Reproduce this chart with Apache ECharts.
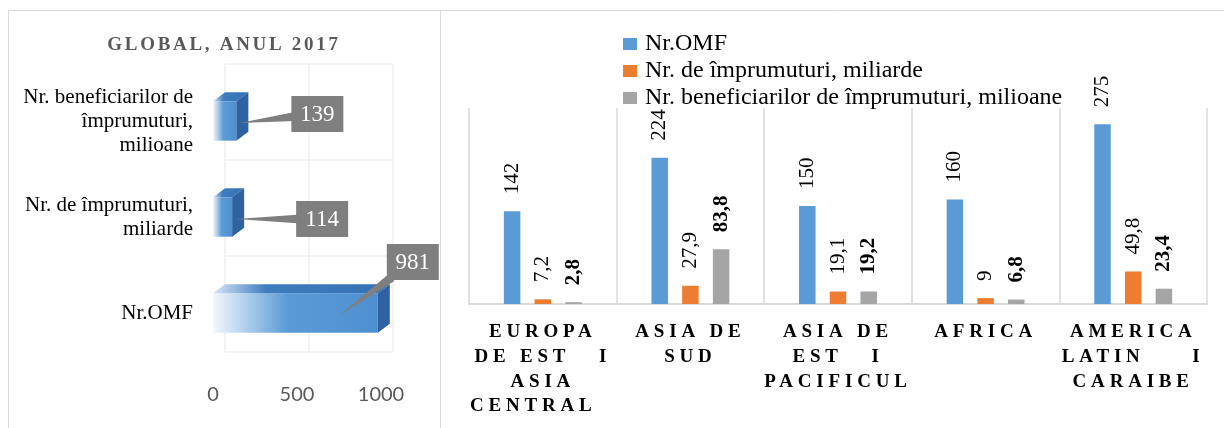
<!DOCTYPE html>
<html>
<head>
<meta charset="utf-8">
<script src="https://cdn.jsdelivr.net/npm/echarts@6/dist/echarts.min.js"></script>
<style>
  html, body { margin: 0; padding: 0; background: #ffffff; }
  #chart { width: 1224px; height: 428px; }
</style>
</head>
<body>
<div id="chart"></div>
<script>
// ---- data: global totals, 2017 ----
const globalCategories = ['Nr.OMF', 'Nr. de împrumuturi,\nmiliarde', 'Nr. beneficiarilor de\nîmprumuturi,\nmilioane'];
const globalValues = [981, 114, 139];
const globalTicks = [0, 500, 1000];

// ---- data: by region ----
const regions = ['EUROPA\nDE EST   I\nASIA\nCENTRAL  ', 'ASIA DE\nSUD', 'ASIA DE\nEST   I\nPACIFICUL', 'AFRICA', 'AMERICA\nLATIN     I\nCARAIBE'];
const seriesNames = ['Nr.OMF', 'Nr. de împrumuturi, miliarde', 'Nr. beneficiarilor de împrumuturi, milioane'];
const omfCount = [142, 224, 150, 160, 275];
const loansBn = [7.2, 27.9, 19.1, 9, 49.8];
const borrowersMn = [2.8, 83.8, 19.2, 6.8, 23.4];

// ---- styling ----
const SERIF = "'Liberation Serif', 'Times New Roman', serif";
const SANS = "Lato, 'Liberation Sans', sans-serif";
const PALETTE = ['#5b9bd5', '#ed7d31', '#a5a5a5'];
const DEPTH = [12, -9];               // 3D bar depth offset (px)
const BOX = [52, 36];                 // callout box size (px)
// callout placement per bar: pointer tip shift from bar end, box offset from bar end
const CALLOUTS = [
  { tip: -38, dx: 9, dy: -51 },
  { tip: 4, dx: 64, dy: 2 },
  { tip: 3, dx: 55, dy: -7 }
];

// Spaced capitals: canvas letterSpacing for the captions set in weights 800 / 900.
const LETTER_SPACING = { '800': '4.8px', '900': '2.7px' };
(function () {
  const proto = CanvasRenderingContext2D.prototype;
  const baseFill = proto.fillText;
  proto.fillText = function (text, x, y, maxWidth) {
    const args = maxWidth === undefined ? [text, x, y] : [text, x, y, maxWidth];
    const m = /(^|\s)(800|900)\s/.exec(this.font);
    if (!m || !('letterSpacing' in this)) {
      return baseFill.apply(this, args);
    }
    const font = this.font;
    this.save();
    this.letterSpacing = LETTER_SPACING[m[2]];
    this.font = font;
    baseFill.apply(this, args);
    this.restore();
    this.letterSpacing = '0px';
    this.font = font;
  };
})();

const fmtComma = (v) => String(v).replace('.', ',');

// 3D horizontal bar with a callout box
function renderBar3D(params, api) {
  const i = params.dataIndex;
  const v = api.value(0);
  const cat = api.value(1);
  const end = api.coord([v, cat]);
  const start = api.coord([0, cat]);
  const band = api.size([0, 1])[1];
  const h = band * 0.41;
  const x0 = start[0], x1 = end[0], yc = end[1];
  const yt = yc - h / 2, yb = yc + h / 2;
  const dx = DEPTH[0], dy = DEPTH[1];

  const front = {
    type: 'rect',
    shape: { x: x0, y: yt, width: x1 - x0, height: h },
    style: {
      fill: new echarts.graphic.LinearGradient(0, 0, 1, 0, [
        { offset: 0, color: '#f3f8fd' },
        { offset: 0.45, color: '#5b9bd5' },
        { offset: 1, color: '#4e8fd2' }
      ])
    }
  };
  const top = {
    type: 'polygon',
    shape: { points: [[x0, yt], [x1, yt], [x1 + dx, yt + dy], [x0 + dx, yt + dy]] },
    style: {
      fill: new echarts.graphic.LinearGradient(0, 0, 1, 0, [
        { offset: 0, color: '#d7e7f6' },
        { offset: 0.3, color: '#3f7cc0' },
        { offset: 1, color: '#3470b4' }
      ])
    }
  };
  const side = {
    type: 'polygon',
    shape: { points: [[x1, yt], [x1 + dx, yt + dy], [x1 + dx, yb + dy], [x1, yb]] },
    style: { fill: '#2e62a2' }
  };

  // callout box and pointer
  const cfg = CALLOUTS[i];
  const bx0 = x1 + cfg.dx, by0 = yc + cfg.dy - BOX[1] / 2;
  const bx1 = bx0 + BOX[0], by1 = by0 + BOX[1];
  const cx = (bx0 + bx1) / 2, cy = (by0 + by1) / 2;
  const tip = [x1 + cfg.tip, yc + 2];
  const ddx = cx - tip[0], ddy = cy - tip[1];
  const tx = ddx > 0 ? (bx0 - tip[0]) / ddx : ddx < 0 ? (bx1 - tip[0]) / ddx : -Infinity;
  const ty = ddy > 0 ? (by0 - tip[1]) / ddy : ddy < 0 ? (by1 - tip[1]) / ddy : -Infinity;
  const t = Math.max(tx, ty) + 0.05;
  const px = tip[0] + t * ddx, py = tip[1] + t * ddy;
  const len = Math.sqrt(ddx * ddx + ddy * ddy) || 1;
  const nx = -ddy / len * 4.5, ny = ddx / len * 4.5;
  const pointer = {
    type: 'polygon',
    shape: { points: [tip, [px + nx, py + ny], [px - nx, py - ny]] },
    style: { fill: '#7f7f7f' }
  };
  const box = {
    type: 'rect',
    shape: { x: bx0, y: by0, width: BOX[0], height: BOX[1] },
    style: { fill: '#7f7f7f' }
  };
  const label = {
    type: 'text',
    style: {
      text: String(v), x: cx, y: cy + 1,
      align: 'center', verticalAlign: 'middle',
      fill: '#ffffff', fontSize: 23, fontFamily: SERIF
    }
  };

  return { type: 'group', children: [front, top, side, pointer, box, label] };
}

const barLabel = (weight) => ({
  show: true,
  position: 'top',
  rotate: 90,
  align: 'left',
  verticalAlign: 'middle',
  distance: 17,
  fontSize: 21,
  fontFamily: SERIF,
  fontWeight: weight,
  color: '#000000',
  formatter: (p) => fmtComma(p.value)
});

const chart = echarts.init(document.getElementById('chart'), null, { renderer: 'canvas' });

chart.setOption({
  animation: false,
  backgroundColor: '#ffffff',
  title: {
    text: 'GLOBAL, ANUL 2017',
    left: 219,
    top: 31,
    textAlign: 'center',
    textStyle: { fontFamily: SERIF, fontSize: 19, fontWeight: 900, color: '#595959' }
  },
  legend: {
    orient: 'vertical',
    left: 618,
    top: 27,
    itemWidth: 14,
    itemHeight: 12,
    itemGap: 3,
    icon: 'rect',
    data: seriesNames,
    textStyle: { fontFamily: SERIF, fontSize: 24, lineHeight: 24, color: '#000000', padding: [0, 0, 0, 3] }
  },
  graphic: [
    {
      type: 'polyline',
      shape: { points: [[8.5, 428], [8.5, 10.5], [440.5, 10.5], [440.5, 428]] },
      style: { stroke: '#d9d9d9', lineWidth: 1, fill: null }
    },
    {
      type: 'line',
      shape: { x1: 440.5, y1: 10.5, x2: 1224, y2: 10.5 },
      style: { stroke: '#d9d9d9', lineWidth: 1 }
    }
  ],
  grid: [
    { left: 213, top: 73, width: 168, height: 288 },
    { left: 469, right: 17, top: 108, bottom: 124 },
    { left: 213 + DEPTH[0], top: 73 + DEPTH[1], width: 168, height: 288 }
  ],
  xAxis: [
    {
      gridIndex: 0, type: 'value', min: globalTicks[0], max: globalTicks[globalTicks.length - 1],
      interval: globalTicks[1] - globalTicks[0],
      axisLine: { show: false }, axisTick: { show: false }, splitLine: { show: false },
      axisLabel: { fontFamily: SANS, fontSize: 20, color: '#595959', margin: 24, formatter: (v) => String(v) }
    },
    {
      gridIndex: 1, type: 'category', data: regions,
      axisLine: { lineStyle: { color: '#d9d9d9', width: 2 } },
      axisTick: { show: false },
      splitLine: { show: true, lineStyle: { color: '#d9d9d9', width: 1.5 } },
      axisLabel: {
        interval: 0, margin: 16, fontFamily: SERIF, fontSize: 19, fontWeight: 800,
        lineHeight: 24.7, color: '#000000', align: 'center'
      }
    },
    {
      gridIndex: 2, type: 'value', min: globalTicks[0], max: globalTicks[globalTicks.length - 1],
      interval: globalTicks[1] - globalTicks[0],
      axisLine: { show: false }, axisTick: { show: false }, axisLabel: { show: false },
      splitLine: { show: true, lineStyle: { color: '#efefef', width: 1.5 } }
    }
  ],
  yAxis: [
    {
      gridIndex: 0, type: 'category', data: globalCategories,
      axisLine: { show: false }, axisTick: { show: false },
      axisLabel: { fontFamily: SERIF, fontSize: 21, lineHeight: 24, color: '#000000', margin: 20 }
    },
    {
      gridIndex: 1, type: 'value', min: 0, max: 300, show: false
    },
    {
      gridIndex: 2, type: 'category', data: globalCategories,
      axisLine: { show: false }, axisTick: { show: false }, axisLabel: { show: false },
      splitLine: { show: true, lineStyle: { color: '#efefef', width: 1.5 } }
    }
  ],
  series: [
    {
      type: 'custom',
      name: 'global',
      xAxisIndex: 0, yAxisIndex: 0,
      data: globalValues.map((v, i) => [v, i]),
      encode: { x: 0, y: 1 },
      renderItem: renderBar3D
    },
    {
      type: 'bar', name: seriesNames[0], xAxisIndex: 1, yAxisIndex: 1,
      data: omfCount, barWidth: 16.5, barGap: '86%',
      itemStyle: { color: PALETTE[0] }, label: barLabel('normal')
    },
    {
      type: 'bar', name: seriesNames[1], xAxisIndex: 1, yAxisIndex: 1,
      data: loansBn, barWidth: 16.5, barGap: '86%',
      itemStyle: { color: PALETTE[1] }, label: barLabel('normal')
    },
    {
      type: 'bar', name: seriesNames[2], xAxisIndex: 1, yAxisIndex: 1,
      data: borrowersMn, barWidth: 16.5, barGap: '86%',
      itemStyle: { color: PALETTE[2] }, label: barLabel(700)
    }
  ]
});
</script>
</body>
</html>
